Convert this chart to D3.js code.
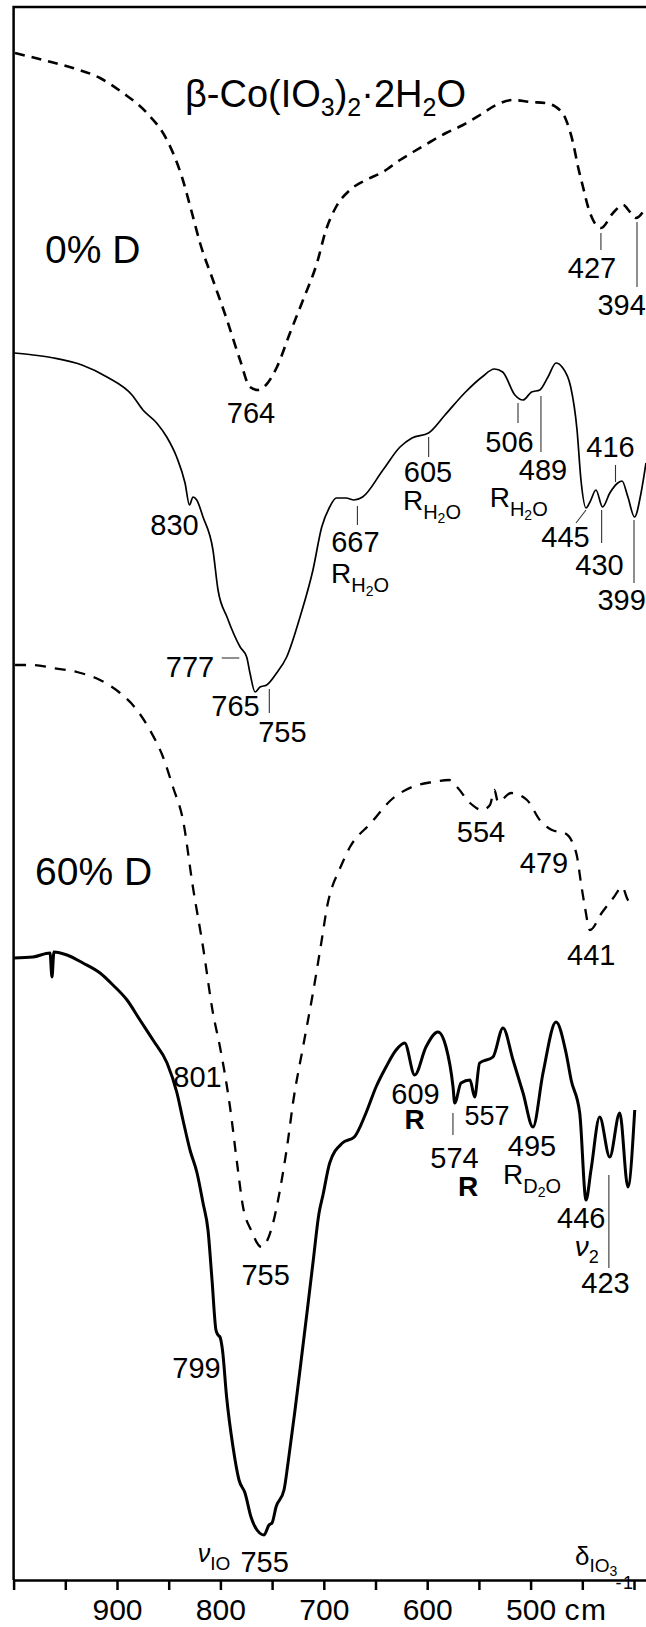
<!DOCTYPE html>
<html>
<head>
<meta charset="utf-8">
<script src="https://cdn.jsdelivr.net/npm/d3@7"></script>
<style>
  body { margin: 0; background: #fff; }
  svg { display: block; }
  text { font-family: "Liberation Sans", Arial, sans-serif; fill: #000; }
</style>
</head>
<body>
<div id="chart"></div>
<script>
// wavenumber (cm-1) vs transmittance, arbitrary units with offsets
var dashed0 = [[998.6,152.7],[971.6,152.0],[942.6,151.2],[916.4,150.2],[894.2,148.7],[871.0,146.7],[851.7,144.0],[837.2,140.3],[827.5,136.7],[819.7,133.7],[807.2,130.0],[793.6,126.0],[781.0,122.0],[771.4,119.3],[763.6,119.0],[755.9,119.5],[745.3,121.3],[732.7,124.7],[720.1,128.0],[706.6,131.7],[697.9,135.0],[688.2,137.3],[674.7,139.0],[659.2,140.0],[642.8,140.8],[626.3,142.0],[613.7,142.8],[597.3,143.8],[581.8,144.7],[565.4,145.5],[548.9,146.5],[533.4,147.5],[517.0,148.0],[500.5,147.8],[486.0,147.7],[475.4,147.3],[465.7,146.0],[458.9,143.7],[454.1,141.3],[449.3,139.3],[444.4,137.3],[439.6,136.0],[431.9,135.2],[420.3,136.7],[410.6,137.5],[403.8,136.8],[398.1,136.2],[388.4,137.3]];

var solid0 = [[999.6,122.7],[981.2,122.5],[961.3,122.2],[933.9,121.5],[909.7,120.3],[885.5,118.5],[874.9,117.0],[861.6,115.7],[851.9,114.3],[842.3,112.3],[834.2,109.7],[829.9,107.5],[826.5,108.3],[822.9,108.0],[816.8,106.3],[807.2,103.0],[802.3,99.0],[793.6,96.3],[780.9,93.3],[774.6,92.3],[771.4,90.7],[766.5,88.8],[761.7,89.3],[755.2,89.5],[745.6,90.7],[735.9,92.3],[723.0,96.3],[710.5,101.0],[702.0,105.3],[694.3,107.3],[687.9,108.2],[678.5,108.2],[670.8,108.0],[662.5,108.3],[642.8,111.0],[626.3,113.3],[614.7,114.2],[598.7,114.7],[582.8,116.5],[562.9,118.8],[547.0,120.3],[535.0,121.1],[527.0,120.8],[515.2,118.5],[507.3,118.0],[499.1,118.8],[491.1,119.0],[483.2,120.3],[475.4,121.7],[469.6,121.3],[461.2,119.3],[455.1,115.0],[451.3,110.0],[446.4,107.2],[442.6,107.8],[436.8,109.0],[430.4,107.3],[423.4,108.7],[415.7,109.7],[411.6,109.9],[405.9,108.3],[399.5,106.3],[393.2,108.7],[388.4,111.7]];

var dashed60 = [[998.6,91.5],[981.2,91.5],[961.9,91.2],[938.7,90.8],[916.4,90.0],[897.0,88.7],[880.7,87.0],[868.2,85.0],[855.5,82.3],[845.9,79.3],[836.2,76.0],[826.6,69.3],[816.8,63.3],[807.2,56.7],[800.4,53.3],[790.7,47.3],[783.9,41.7],[778.1,37.3],[770.4,35.0],[760.2,33.3],[750.1,35.3],[742.4,39.0],[734.6,44.0],[729.8,47.7],[720.1,53.3],[710.5,58.7],[702.0,64.0],[696.5,67.5],[691.6,69.4],[686.3,70.7],[674.7,73.3],[654.4,75.7],[635.0,78.0],[614.7,79.3],[594.8,79.8],[578.9,80.0],[571.2,79.3],[558.6,77.7],[547.0,77.0],[539.3,77.5],[535.0,79.0],[531.5,77.8],[518.9,78.7],[503.5,78.0],[491.1,76.0],[479.4,75.0],[467.2,74.7],[459.3,73.7],[455.0,72.3],[451.3,69.7],[447.5,67.3],[442.6,65.0],[431.3,66.7],[419.4,68.3],[411.6,69.3],[405.9,68.0],[399.5,67.3]];

var solid60 = [[1000,62.2],[981.2,62.3],[964.8,62.7],[962.9,60.3],[961.0,62.8],[948.4,62.5],[932.9,61.7],[916.4,60.7],[903.9,59.5],[890.3,58.0],[877.8,56.0],[865.2,54.0],[851.6,51.7],[842.0,48.7],[836.2,46.0],[829.4,43.0],[822.6,40.7],[816.8,37.7],[812.0,35.0],[808.1,30.0],[804.3,25.0],[802.3,24.5],[800.4,24.3],[798.0,23.0],[794.0,18.3],[787.8,13.3],[782.0,10.0],[776.2,8.7],[770.4,6.3],[762.1,4.7],[757.8,4.5],[753.0,5.5],[750.1,5.7],[746.2,7.3],[738.5,9.0],[734.6,11.7],[728.2,16.7],[722.2,21.7],[716.3,26.7],[710.5,31.7],[704.6,36.7],[700.8,38.5],[694.3,41.7],[682.0,43.7],[670.5,44.3],[659.2,46.7],[649.5,49.3],[639.8,51.3],[630.1,53.0],[621.8,53.7],[612.1,50.5],[601.2,53.3],[589.6,54.8],[581.8,53.3],[575.0,49.3],[573.4,47.7],[567.3,49.7],[558.6,50.0],[554.1,48.3],[549.3,51.7],[536.4,52.3],[526.7,55.2],[517.0,52.0],[507.3,48.7],[497.7,45.3],[488.0,50.7],[475.4,55.8],[465.7,52.7],[460.8,50.0],[452.5,46.7],[446.4,38.0],[441.6,41.0],[433.2,46.3],[423.5,42.3],[413.8,46.7],[405.9,39.3],[399.3,47.0]];

var wavenumberTicks = [1000, 950, 900, 850, 800, 750, 700, 650, 600, 550, 500, 450, 400];
var labelledTicks = [900, 800, 700, 600, 500];

// peak labels: [text, wavenumber, transmittance of baseline]
var peakLabels = [["764",770.4,115.7],["427",440.6,130.2],["394",412.0,126.5],["830",844.4,104.5],["667",669.4,102.8],["605",599.2,109.8],["506",520.4,112.8],["489",488.0,110.0],["416",422.7,112.3],["445",466.3,103.3],["430",433.4,100.5],["399",412.0,97.0],["777",829.4,90.3],["765",785.4,86.4],["755",740.0,83.8],["554",548.0,73.8],["479",487.0,70.7],["441",441.3,61.5],["801",822.1,49.3],["609",611.3,47.6],["574",573.6,41.2],["495",498.7,42.4],["446",451.0,35.2],["423",427.6,28.7],["755",756.2,29.5],["799",823.1,20.2],["755",757.2,0.8]];
var smallLabels = [["557",542.2,45.5]];
var rLabels = [["R",612.1,45.1],["R",560.5,38.4]];
// librational modes R with water subscript: [molecule letter, wavenumber at start, transmittance]
var rWaterLabels = [["H",693.0,99.7],["H",623.5,107.0],["H",539.6,107.3],["D",526.7,39.6]];
// leader lines: [nu1, t1, nu2, t2]
var leaders = [[432.0,134.7,432.0,133.0],[397.1,135.8,397.1,129.3],[667.5,107.4,667.5,105.5],[598.6,114.3,598.6,112.3],[512.2,117.7,512.2,115.7],[490.0,118.4,490.0,112.8],[417.9,111.5,417.9,109.8],[456.1,105.7,446.4,107.0],[431.3,107.0,431.3,103.7],[400.0,106.0,400.0,99.7],[798.7,92.2,781.7,92.2],[752.7,89.1,752.7,86.7],[575.1,46.7,575.1,44.5],[424.3,40.5,424.3,31.2]];

var sampleLabels = [["0% D",969.6,131.7],["60% D",979.3,69.5]];

var width = 646, height = 1627;
var margin = {top: 7, left: 13.6, bottom: 47};

var svg = d3.select("#chart")
  .append("svg")
  .attr("width", width)
  .attr("height", height);

var x = d3.scaleLinear().domain([1000, 388.4]).range([margin.left, width]);
var y = d3.scaleLinear().domain([0, 157.3]).range([height - margin.bottom, margin.top]);

// frame (top and left)
svg.append("path")
  .attr("d", "M" + width + "," + y(157.3) + "H" + x(1000) + "V" + y(0))
  .attr("fill", "none")
  .attr("stroke", "#000")
  .attr("stroke-width", 2.5);

// x axis
svg.append("g")
  .attr("transform", "translate(0," + y(0) + ")")
  .call(d3.axisBottom(x)
    .tickValues(wavenumberTicks)
    .tickSize(10)
    .tickSizeOuter(0)
    .tickPadding(8.7)
    .tickFormat(function(d) { return labelledTicks.indexOf(d) >= 0 ? d : ""; }))
  .call(function(g) {
    g.attr("font-size", 30);
    g.select(".domain").attr("stroke-width", 2.5);
    g.selectAll(".tick line").attr("stroke-width", 2.5);
  });

var unit = svg.append("text")
  .attr("x", x(467.2)).attr("y", y(0) + 40)
  .attr("font-size", 30)
  .attr("letter-spacing", 1.5)
  .text("cm");
unit.append("tspan").attr("font-size", 18).attr("dx", 8).attr("dy", -31).text("-1");

// spectra
var line = d3.line()
  .x(function(d) { return x(d[0]); })
  .y(function(d) { return y(d[1]); })
  .curve(d3.curveMonotoneX);

svg.append("path").datum(dashed0)
  .attr("fill", "none").attr("stroke", "#000")
  .attr("stroke-width", 2.6).attr("stroke-dasharray", "10,7")
  .attr("d", line);

svg.append("path").datum(solid0)
  .attr("fill", "none").attr("stroke", "#000")
  .attr("stroke-width", 1.7)
  .attr("d", line);

svg.append("path").datum(dashed60)
  .attr("fill", "none").attr("stroke", "#000")
  .attr("stroke-width", 2.3).attr("stroke-dasharray", "11,9")
  .attr("d", line);

svg.append("path").datum(solid60)
  .attr("fill", "none").attr("stroke", "#000")
  .attr("stroke-width", 3)
  .attr("d", line);

// leader lines
svg.selectAll(".leader").data(leaders).enter().append("line")
  .attr("class", "leader")
  .attr("x1", function(d) { return x(d[0]); })
  .attr("y1", function(d) { return y(d[1]); })
  .attr("x2", function(d) { return x(d[2]); })
  .attr("y2", function(d) { return y(d[3]); })
  .attr("stroke", "#333")
  .attr("stroke-width", 1.1);

// peak numbers
svg.selectAll(".peak").data(peakLabels).enter().append("text")
  .attr("class", "peak")
  .attr("x", function(d) { return x(d[1]); })
  .attr("y", function(d) { return y(d[2]); })
  .attr("text-anchor", "middle")
  .attr("font-size", 29)
  .text(function(d) { return d[0]; });

svg.selectAll(".small").data(smallLabels).enter().append("text")
  .attr("class", "small")
  .attr("x", function(d) { return x(d[1]); })
  .attr("y", function(d) { return y(d[2]); })
  .attr("text-anchor", "middle")
  .attr("font-size", 27)
  .text(function(d) { return d[0]; });

svg.selectAll(".rlab").data(rLabels).enter().append("text")
  .attr("class", "rlab")
  .attr("x", function(d) { return x(d[1]); })
  .attr("y", function(d) { return y(d[2]); })
  .attr("text-anchor", "middle")
  .attr("font-size", 28)
  .attr("font-weight", "bold")
  .text(function(d) { return d[0]; });

var rw = svg.selectAll(".rw").data(rWaterLabels).enter().append("text")
  .attr("class", "rw")
  .attr("x", function(d) { return x(d[1]); })
  .attr("y", function(d) { return y(d[2]); })
  .attr("font-size", 28);
rw.append("tspan").text("R");
rw.append("tspan").attr("font-size", 20).attr("dy", 9).text(function(d) { return d[0]; });
rw.append("tspan").attr("font-size", 14).attr("dy", 4).text("2");
rw.append("tspan").attr("font-size", 20).attr("dy", -4).text("O");

// sample labels
svg.selectAll(".sample").data(sampleLabels).enter().append("text")
  .attr("class", "sample")
  .attr("x", function(d) { return x(d[1]); })
  .attr("y", function(d) { return y(d[2]); })
  .attr("font-size", 39)
  .text(function(d) { return d[0]; });

// title
var title = svg.append("text")
  .attr("x", x(834.3)).attr("y", y(147.3))
  .attr("font-size", 38);
title.append("tspan").text("β-Co(IO");
title.append("tspan").attr("font-size", 25).attr("dy", 9).text("3");
title.append("tspan").attr("dy", -9).text(")");
title.append("tspan").attr("font-size", 25).attr("dy", 9).text("2");
title.append("tspan").attr("dy", -9).text("·2H");
title.append("tspan").attr("font-size", 25).attr("dy", 9).text("2");
title.append("tspan").attr("dy", -9).text("O");

// mode symbols
var nu2 = svg.append("text").attr("x", x(457.3)).attr("y", y(32.4)).attr("font-size", 28);
nu2.append("tspan").attr("font-style", "italic").text("ν");
nu2.append("tspan").attr("font-size", 18).attr("dy", 7).text("2");

var nuIO = svg.append("text").attr("x", x(821.9)).attr("y", y(1.8)).attr("font-size", 25);
nuIO.append("tspan").attr("font-style", "italic").text("ν");
nuIO.append("tspan").attr("font-size", 19).attr("dy", 8).text("IO");

var dIO3 = svg.append("text").attr("x", x(457.1)).attr("y", y(1.5)).attr("font-size", 26);
dIO3.append("tspan").text("δ");
dIO3.append("tspan").attr("font-size", 19).attr("dy", 7).text("IO");
dIO3.append("tspan").attr("font-size", 14).attr("dy", 4).text("3");
</script>
</body>
</html>
